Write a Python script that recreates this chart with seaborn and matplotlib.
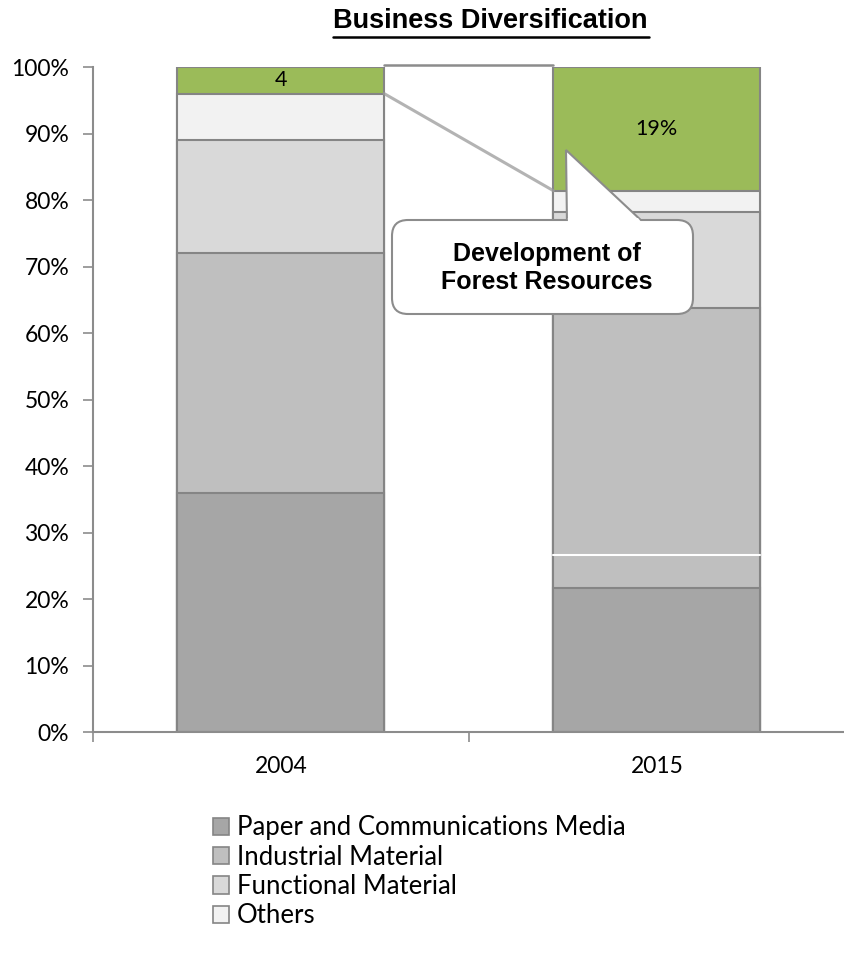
import matplotlib
matplotlib.use('Agg')
import matplotlib.pyplot as plt
import seaborn as sns
import pandas as pd
from matplotlib.patches import FancyBboxPatch, Polygon, Patch

# Data (shares in %)
years = ['2004', '2015']
segments = ['Paper and Communications Media', 'Industrial Material',
            'Functional Material', 'Others', 'Development of Forest Resources']
paper = [36.0, 21.6]
industrial = [36.0, 42.2]
functional = [17.0, 14.4]
others = [7.0, 3.2]
forest = [4.0, 18.6]
forest_labels = ['4', '19%']
colors = ['#a6a6a6', '#bfbfbf', '#d9d9d9', '#f2f2f2', '#9bbb59']
edge = '#858585'

sns.set_theme(style='white')
plt.rcParams['font.family'] = ['Lato', 'DejaVu Sans']
plt.rcParams['text.color'] = 'black'
plt.rcParams['xtick.color'] = 'black'
plt.rcParams['ytick.color'] = 'black'

df = pd.DataFrame({'Year': years, 'Paper': paper, 'Industrial': industrial,
                   'Functional': functional, 'Others': others, 'Forest': forest})
cols = ['Paper', 'Industrial', 'Functional', 'Others', 'Forest']
cum = df[cols].cumsum(axis=1)

fig = plt.figure(figsize=(8.44, 9.66), dpi=100)
ax = fig.add_axes([0.110, 0.2422, 0.891, 0.6884])

# stacked bars: draw cumulative tops from highest to lowest
for col, c in reversed(list(zip(cols, colors))):
    sns.barplot(x=df['Year'], y=cum[col], color=c, width=0.55, edgecolor=edge,
                linewidth=1.5, saturation=1, ax=ax, zorder=2)

# labels in green segment
for i, lab in enumerate(forest_labels):
    mid = cum['Others'][i] + forest[i] / 2
    ax.text(i, mid, lab, ha='center', va='center', fontsize=15.5, color='black', zorder=5)

# white line in 2015 bar
ax.plot([0.725, 1.275], [26.6, 26.6], color='white', lw=1.5, zorder=4)

# series lines
ax.plot([0.275, 0.725], [100.3, 100.3], color='#8c8c8c', lw=1.8, zorder=3, clip_on=False)
ax.plot([0.275, 0.725], [cum['Others'][0], cum['Others'][1]], color='#9a9a9a',
        lw=2.2, alpha=0.75, zorder=3)

ax.set_xlim(-0.5, 1.5)
ax.set_ylim(0, 100)
ax.set_yticks(range(0, 101, 10))
ax.set_yticklabels([f'{v}%' for v in range(0, 101, 10)], fontsize=16.5)
ax.set_xticks([0, 1])
ax.set_xticklabels(years, fontsize=16.5)
ax.set_xticks([-0.5, 0.5, 1.5], minor=True)
ax.tick_params(axis='x', which='major', length=0, pad=17)
ax.tick_params(axis='x', which='minor', length=7, width=1.2, color='#8c8c8c', direction='out', bottom=True)
ax.tick_params(axis='y', length=7, width=1.2, color='#8c8c8c', direction='out', left=True, pad=10)
ax.set_xlabel('')
ax.set_ylabel('')
for s in ['top', 'right']:
    ax.spines[s].set_visible(False)
for s in ['left', 'bottom']:
    ax.spines[s].set_color('#8c8c8c')
    ax.spines[s].set_linewidth(1.5)

# callout drawn on a pixel-space overlay (y down)
ov = fig.add_axes([0, 0, 1, 1], zorder=5)
ov.set_xlim(0, 844)
ov.set_ylim(966, 0)
ov.axis('off')
ov.patch.set_alpha(0)
ov.add_patch(Polygon([(566, 150), (567, 224), (645, 224)], closed=True,
                     facecolor='white', edgecolor='#8c8c8c', lw=1.5, zorder=1))
ov.add_patch(FancyBboxPatch((392, 220), 301, 94, boxstyle='round,pad=0,rounding_size=16',
                            facecolor='white', edgecolor='#8c8c8c', lw=1.5, zorder=2))
ov.add_patch(Polygon([(567.8, 218), (568, 223), (642, 223), (638, 218)], closed=True,
                     facecolor='white', edgecolor='none', zorder=3))
ov.text(547, 268, 'Development of\nForest Resources', ha='center', va='center',
        fontsize=18, fontweight='bold', family='Liberation Sans', linespacing=1.2, zorder=4)

# title
fig.text(0.581, 0.978, 'Business Diversification', ha='center', va='center',
         fontsize=19.5, fontweight='bold', family='Liberation Sans')
fig.lines.append(plt.Line2D([0.394, 0.769], [0.9615, 0.9615], transform=fig.transFigure,
                            color='black', lw=1.8))

# legend
handles = [Patch(facecolor=c, edgecolor=edge, lw=1.2) for c in colors[:4]]
fig.legend(handles, segments[:4], loc='upper left', bbox_to_anchor=(0.252, 0.156),
           frameon=False, fontsize=18.5, handlelength=0.65, handleheight=0.65,
           handletextpad=0.3, labelspacing=0.17, borderpad=0, borderaxespad=0)

fig.savefig('out.png', dpi=100)
